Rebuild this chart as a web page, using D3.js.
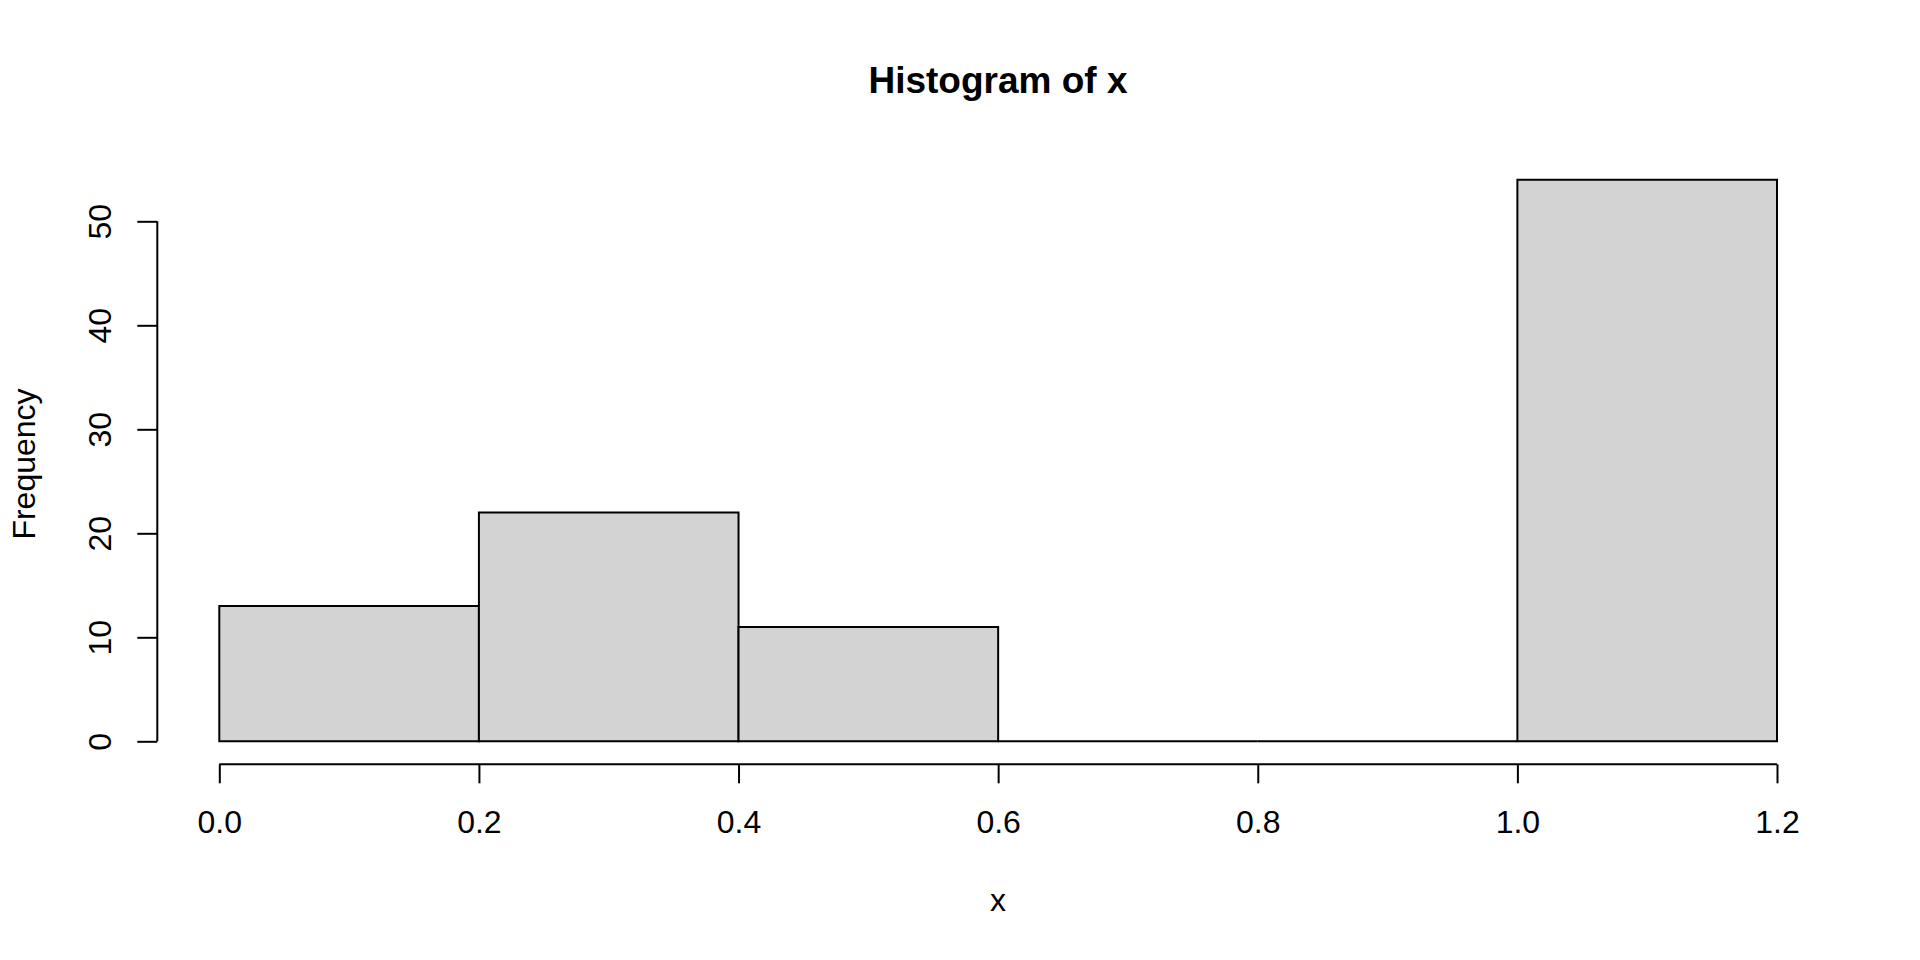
<!DOCTYPE html>
<html><head><meta charset="utf-8">
<script src="https://cdn.jsdelivr.net/npm/d3@7"></script>
<style>body{margin:0;background:#fff}svg{display:block}text{font-family:"Liberation Sans",Arial,sans-serif;fill:#000}</style>
</head><body>
<script>
const breaks = [0, 0.2, 0.4, 0.6, 0.8, 1.0, 1.2];
const counts = [13, 22, 11, 0, 0, 54];
const xTicks = [0, 0.2, 0.4, 0.6, 0.8, 1.0, 1.2];
const yTicks = [0, 10, 20, 30, 40, 50];
const title = "Histogram of x";
const xLabel = "x";
const yLabel = "Frequency";

const FONT = '"Liberation Sans",Arial,sans-serif';
const W = 1920, H = 960;
const svg = d3.select("body").append("svg").attr("width", W).attr("height", H);
const x = d3.scaleLinear().domain([0, 1.2]).range([219.3, 1777]);
const y = d3.scaleLinear().domain([0, 50]).range([741.3, 221.3]);

const bins = counts.map((c, i) => ({x0: breaks[i], x1: breaks[i + 1], c}));
svg.append("g").selectAll("path").data(bins).join("path")
  .attr("d", d => `M${x(d.x0)},${y(0)}V${y(d.c)}H${x(d.x1)}V${y(0)}Z`)
  .attr("fill", "#d3d3d3").attr("stroke", "#000").attr("stroke-width", 2);

// x axis
const xa = svg.append("g").attr("transform", "translate(0,764.3)")
  .call(d3.axisBottom(x).tickValues(xTicks).tickSize(19).tickFormat(d3.format(".1f")));
xa.select(".domain").attr("d", `M${x(0)},0H${x(1.2)}`).attr("stroke-width", 2);
xa.selectAll(".tick line").attr("stroke-width", 2);
xa.selectAll(".tick text").attr("font-size", 32).attr("font-family", FONT)
  .attr("y", 69).attr("dy", null);

// y axis
const ya = svg.append("g").attr("transform", "translate(157.3,0)")
  .call(d3.axisLeft(y).tickValues(yTicks).tickSize(20).tickFormat(d3.format("d")));
ya.select(".domain").attr("d", `M0,${y(0)}V${y(50)}`).attr("stroke-width", 2);
ya.selectAll(".tick line").attr("stroke-width", 2);
ya.selectAll(".tick text").attr("font-size", 32).attr("font-family", FONT)
  .attr("x", null).attr("dy", null).attr("y", null)
  .attr("text-anchor", "middle")
  .attr("transform", "translate(-46,0) rotate(-90)");

svg.append("text").attr("x", 998).attr("y", 93).attr("text-anchor", "middle")
  .attr("font-size", 37).attr("font-weight", "bold").text(title);
svg.append("text").attr("x", 998).attr("y", 911).attr("text-anchor", "middle")
  .attr("font-size", 32).text(xLabel);
svg.append("text").attr("transform", "translate(35,464) rotate(-90)").attr("text-anchor", "middle")
  .attr("font-size", 32).text(yLabel);
</script>
</body></html>
